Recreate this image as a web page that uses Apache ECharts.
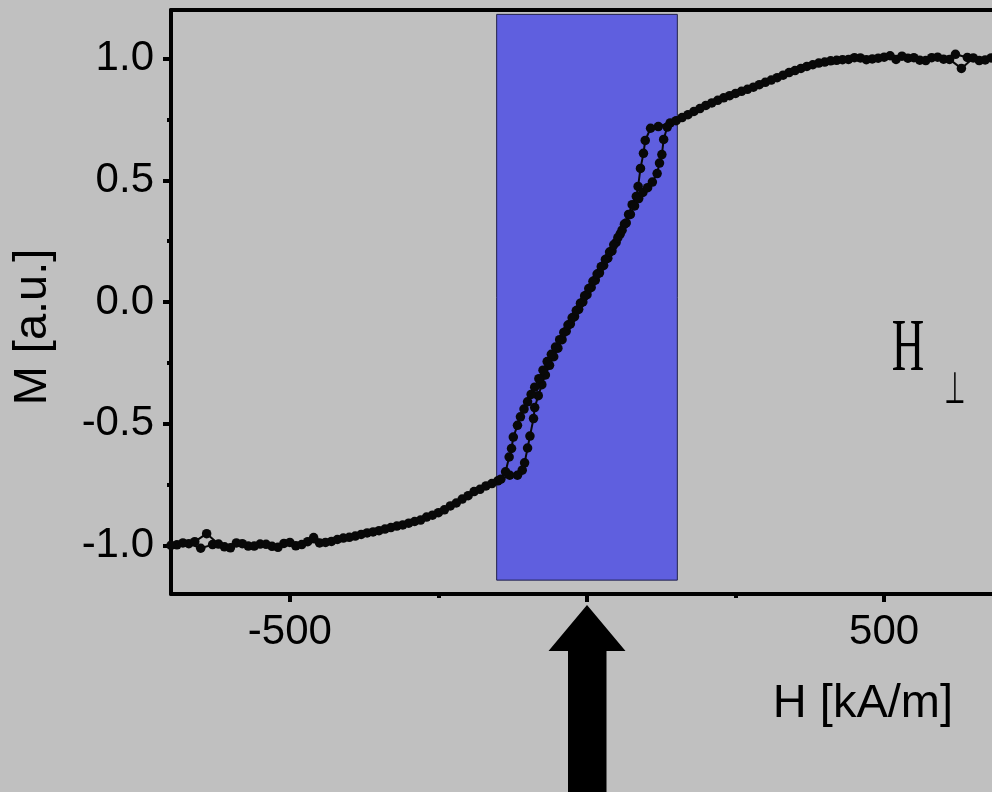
<!DOCTYPE html>
<html><head><meta charset="utf-8">
<script src="https://cdn.jsdelivr.net/npm/echarts@6/dist/echarts.min.js"></script>
<style>html,body{margin:0;padding:0;background:#c0c0c0;}#c{width:992px;height:792px;}</style>
</head><body><div id="c"></div>
<script>
// Descending branch (from +saturation to -saturation)
const descH = [700,680,660,640,620,600,580,560,540,520,500,480,460,440,420,400,380,360,340,320,300,280,260,240,220,200,180,160,140,120,107,
  98,95,90,86,83,
  76,70,63,56,49,42,35,28,21,14,7,0,-7,-14,-21,-28,-35,-42,-49,-56,-63,-70,-76,-82,-88,
  -90,-96,-100,-105,-109,-117,
  -130,-150,-170,-190,-210,-230,-250,-270,-290,-310,-330,-350,-370,-390,-410,-430,-450,-470,-490,-510,-530,-550,-570,-590,-610,-630,-650,-670,-690];
const descM = [0.995,1.003,0.992,1.005,1.018,0.998,1.004,0.994,1.002,0.997,1.006,0.999,1.003,0.997,0.993,0.986,0.975,0.96,0.943,0.922,0.903,0.883,0.866,0.848,0.829,0.808,0.783,0.758,0.736,0.721,0.714,
  0.664,0.611,0.549,0.475,0.434,
  0.40,0.36,0.32,0.28,0.245,0.21,0.18,0.15,0.12,0.09,0.06,0.03,0.0,-0.03,-0.06,-0.09,-0.12,-0.155,-0.19,-0.225,-0.26,-0.30,-0.34,-0.385,-0.434,
  -0.479,-0.551,-0.60,-0.661,-0.691,-0.712,
  -0.712,-0.735,-0.756,-0.779,-0.81,-0.838,-0.866,-0.884,-0.902,-0.916,-0.927,-0.94,-0.949,-0.962,-0.97,-0.984,-0.99,-0.985,-1.002,-0.992,-1.004,-0.995,-1.003,-0.99,-1.006,-0.997,-1.012,-0.993,-0.998];
// Ascending branch (from -saturation to +saturation)
const ascH = [-700,-680,-660,-640,-620,-600,-580,-560,-540,-520,-500,-480,-460,-440,-420,-400,-380,-360,-340,-320,-300,-280,-260,-240,-220,-200,-180,-160,-145,-137,
  -131,-127,-124,-117,-112,
  -106,-100,-94,-88,-81,-74,-67,-60,-53,-46,-39,-32,-25,-18,-11,-4,3,10,17,24,31,38,45,52,59,66,73,80,87,94,102,110,
  118,122,126,129,135,
  150,170,190,210,230,250,270,290,310,330,350,370,390,410,430,450,470,490,510,530,550,570,590,610,630,650,670,690];
const ascM = [-1.0,-0.99,-0.985,-0.952,-0.995,-1.01,-0.993,-1.003,-0.996,-1.008,-0.988,-0.997,-0.968,-0.988,-0.976,-0.967,-0.955,-0.945,-0.933,-0.921,-0.909,-0.896,-0.876,-0.854,-0.826,-0.796,-0.77,-0.746,-0.728,-0.698,
  -0.637,-0.602,-0.555,-0.507,-0.472,
  -0.44,-0.41,-0.38,-0.35,-0.315,-0.28,-0.245,-0.215,-0.185,-0.155,-0.125,-0.095,-0.065,-0.035,-0.005,0.025,0.055,0.085,0.115,0.145,0.175,0.205,0.235,0.265,0.295,0.325,0.36,0.395,0.425,0.45,0.47,0.493,
  0.528,0.571,0.606,0.668,0.719,
  0.745,0.77,0.795,0.818,0.839,0.857,0.874,0.893,0.912,0.932,0.951,0.968,0.982,0.991,0.996,1.004,0.996,1.002,1.012,1.01,1.004,0.992,1.006,0.997,0.96,1.003,0.995,1.002];

const xRange = [-700, 700];
const yRange = [-1.2, 1.2];
const xMajorTicks = [-500, 0, 500];
const xMinorTicks = [-250, 250];
const yMajorTicks = [-1.0, -0.5, 0.0, 0.5, 1.0];
const yMinorTicks = [-0.75, -0.25, 0.25, 0.75];
const bandH = [-152, 152];
const bandM = [-1.143, 1.182];
const arrowH = 0;
const xName = 'H [kA/m]';
const yName = 'M [a.u.]';
const noteMain = 'H';
const noteSub = '⊥';

const zip = (a, b) => a.map((v, i) => [v, b[i]]);
const chart = echarts.init(document.getElementById('c'), null, {renderer: 'canvas'});
const black = '#000';
const lab = {fontSize: 42, fontFamily: 'Liberation Sans, Arial, sans-serif', color: black};

const option = {
  backgroundColor: '#c0c0c0',
  animation: false,
  grid: {left: 171, right: -11, top: 10, bottom: 198, containLabel: false, outerBoundsMode: 'none'},
  xAxis: [
    {type: 'value', min: xRange[0], max: xRange[1], position: 'bottom',
     axisLine: {show: true, onZero: false, lineStyle: {color: black, width: 4}},
     axisTick: {show: true, customValues: xMajorTicks, length: 8, lineStyle: {color: black, width: 4}},
     axisLabel: Object.assign({customValues: xMajorTicks, margin: 17, formatter: v => String(v)}, lab),
     splitLine: {show: false},
     name: xName, nameLocation: 'end', nameGap: -50,
     nameTextStyle: {fontSize: 47, fontFamily: 'Liberation Sans, Arial, sans-serif', color: black, align: 'right', verticalAlign: 'top', padding: [87, 0, 0, 0]}},
    {type: 'value', min: xRange[0], max: xRange[1], position: 'bottom',
     axisLine: {show: false, onZero: false},
     axisTick: {show: true, customValues: xMinorTicks, length: 4, lineStyle: {color: black, width: 4}},
     axisLabel: {show: false}, splitLine: {show: false}},
    {type: 'value', min: xRange[0], max: xRange[1], position: 'top',
     axisLine: {show: true, onZero: false, lineStyle: {color: black, width: 4}},
     axisTick: {show: false}, axisLabel: {show: false}, splitLine: {show: false}}
  ],
  yAxis: [
    {type: 'value', min: yRange[0], max: yRange[1], position: 'left',
     axisLine: {show: true, onZero: false, lineStyle: {color: black, width: 4}},
     axisTick: {show: true, customValues: yMajorTicks, length: 8, lineStyle: {color: black, width: 4}},
     axisLabel: Object.assign({customValues: yMajorTicks, margin: 17, formatter: v => v.toFixed(1)}, lab),
     splitLine: {show: false},
     name: yName, nameLocation: 'middle', nameGap: 114,
     nameTextStyle: {fontSize: 47, fontFamily: 'Liberation Sans, Arial, sans-serif', color: black, padding: [0, 50, 0, 0]}},
    {type: 'value', min: yRange[0], max: yRange[1], position: 'left',
     axisLine: {show: false, onZero: false},
     axisTick: {show: true, customValues: yMinorTicks, length: 4, lineStyle: {color: black, width: 4}},
     axisLabel: {show: false}, splitLine: {show: false}}
  ],
  series: [
    {type: 'line', name: 'band', xAxisIndex: 0, yAxisIndex: 0, data: [], silent: true, z: 1,
     markArea: {silent: true, z: 1,
       itemStyle: {color: '#5f5fdf', borderColor: '#20204a', borderWidth: 1, opacity: 1},
       data: [[{coord: [bandH[0], bandM[0]]}, {coord: [bandH[1], bandM[1]]}]]}},
    {type: 'line', name: 'descending', xAxisIndex: 0, yAxisIndex: 0, data: zip(descH, descM), z: 3,
     symbol: 'circle', symbolSize: 9.5, showAllSymbol: true,
     itemStyle: {color: '#080808'}, lineStyle: {color: '#080808', width: 2}},
    {type: 'line', name: 'ascending', xAxisIndex: 0, yAxisIndex: 0, data: zip(ascH, ascM), z: 3,
     symbol: 'circle', symbolSize: 9.5, showAllSymbol: true,
     itemStyle: {color: '#080808'}, lineStyle: {color: '#080808', width: 2}}
  ]
};
chart.setOption(option);

const x0 = chart.convertToPixel({xAxisIndex: 0}, arrowH);
const yb = chart.convertToPixel({yAxisIndex: 0}, yRange[0]);
const note = chart.convertToPixel({xAxisIndex: 0, yAxisIndex: 0}, [540, -0.2]);
chart.setOption({
  graphic: [
    {type: 'polygon', z: 100, silent: true,
     shape: {points: [[x0, yb + 11], [x0 - 38.5, yb + 57], [x0 - 19, yb + 57], [x0 - 19, 800], [x0 + 19.5, 800], [x0 + 19.5, yb + 57], [x0 + 38.5, yb + 57]]},
     style: {fill: '#000'}},
    {type: 'text', z: 100, silent: true, x: note[0], y: note[1], scaleX: 0.6,
     style: {text: noteMain, fontSize: 75, fontFamily: 'Liberation Serif, Times New Roman, serif', fill: '#000', align: 'center', verticalAlign: 'middle'}},
    {type: 'text', z: 100, silent: true, x: note[0] + 47, y: note[1] + 41, scaleX: 0.55,
     style: {text: noteSub, fontSize: 44, fontFamily: 'DejaVu Sans, sans-serif', fill: '#000', align: 'center', verticalAlign: 'middle'}}
  ]
});
</script>
</body></html>
